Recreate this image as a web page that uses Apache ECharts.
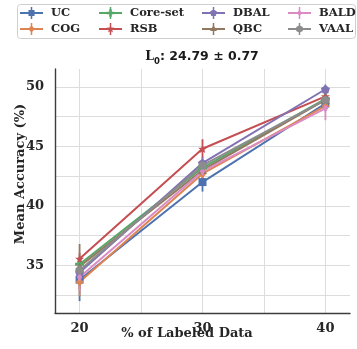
<!DOCTYPE html>
<html>
<head>
<meta charset="utf-8">
<script src="https://cdn.jsdelivr.net/npm/echarts@6/dist/echarts.min.js"></script>
<style>
  html, body { margin: 0; padding: 0; background: #fff; }
  #chart { width: 357px; height: 349px; }
</style>
</head>
<body>
<div id="chart"></div>
<script>
// % of labeled data (x)
const labeledPct = [20, 30, 40]
const xTickLabels = [20, 30, 40]
const yTickLabels = [35, 40, 45, 50]

const methods = ['UC', 'COG', 'Core-set', 'RSB', 'DBAL', 'QBC', 'BALD', 'VAAL']
const colors = ['#4c72b0', '#dd8452', '#55a868', '#c44e52', '#8172b3', '#937860', '#da8bc3', '#8c8c8c']
const markers = ['square', 'diamond', 'plus', 'star', 'pentagon', 'triangle', 'thinDiamond', 'hexagon']

// mean accuracy and std per method
const ucMean = [33.8, 42.0, 48.6]
const ucErr = [1.8, 0.8, 0.4]
const cogMean = [33.6, 42.7, 48.4]
const cogErr = [1.2, 0.5, 0.4]
const coresetMean = [35.1, 43.2, 49.0]
const coresetErr = [0.6, 0.5, 0.4]
const rsbMean = [35.55, 44.8, 49.2]
const rsbErr = [0.5, 0.8, 0.3]
const dbalMean = [34.4, 43.6, 49.8]
const dbalErr = [0.6, 0.5, 0.4]
const qbcMean = [34.9, 43.0, 48.9]
const qbcErr = [1.9, 0.6, 0.5]
const baldMean = [34.0, 42.9, 48.2]
const baldErr = [1.1, 0.5, 1.0]
const vaalMean = [34.6, 43.4, 48.9]
const vaalErr = [0.8, 0.5, 0.6]

const means = [ucMean, cogMean, coresetMean, rsbMean, dbalMean, qbcMean, baldMean, vaalMean]
const errs = [ucErr, cogErr, coresetErr, rsbErr, dbalErr, qbcErr, baldErr, vaalErr]

const serif = 'DejaVu Serif'
const sans = 'DejaVu Sans'

function poly(pts) {
  return 'M' + pts.map((p) => p[0].toFixed(2) + ',' + p[1].toFixed(2)).join('L') + 'Z'
}

function ring(cx, cy, n, r, start, r2) {
  const pts = []
  const steps = r2 ? n * 2 : n
  for (let k = 0; k < steps; k++) {
    const a = ((start + (360 / steps) * k) * Math.PI) / 180
    const rr = r2 && k % 2 ? r2 : r
    pts.push([cx + rr * Math.cos(a), cy + rr * Math.sin(a)])
  }
  return poly(pts)
}

function markerPath(kind, cx, cy, r) {
  switch (kind) {
    case 'square':
      return poly([[cx - r * 0.8, cy - r * 0.8], [cx + r * 0.8, cy - r * 0.8], [cx + r * 0.8, cy + r * 0.8], [cx - r * 0.8, cy + r * 0.8]])
    case 'diamond':
      return poly([[cx, cy - r], [cx + r * 0.85, cy], [cx, cy + r], [cx - r * 0.85, cy]])
    case 'thinDiamond':
      return poly([[cx, cy - r], [cx + r * 0.6, cy], [cx, cy + r], [cx - r * 0.6, cy]])
    case 'plus': {
      const w = r * 0.35
      return poly([
        [cx - w, cy - r], [cx + w, cy - r], [cx + w, cy - w], [cx + r, cy - w], [cx + r, cy + w], [cx + w, cy + w],
        [cx + w, cy + r], [cx - w, cy + r], [cx - w, cy + w], [cx - r, cy + w], [cx - r, cy - w], [cx - w, cy - w],
      ])
    }
    case 'star':
      return ring(cx, cy, 5, r * 1.1, -90, r * 0.45)
    case 'pentagon':
      return ring(cx, cy, 5, r, -90)
    case 'triangle':
      return ring(cx, cy, 3, r * 1.05, -90)
    case 'hexagon':
      return ring(cx, cy, 6, r, -90)
  }
}

// legend icon: line + vertical error bar + marker (23 x 12 box)
function legendIcon(kind) {
  return 'path://M0,5.1H23V6.9H0Z M10.75,0H12.25V12H10.75Z ' + markerPath(kind, 11.5, 6, 3.8)
}

const series = []
methods.forEach((m, i) => {
  const c = colors[i]
  series.push({
    type: 'line',
    name: m,
    data: labeledPct.map((x, j) => [x, means[i][j]]),
    symbol: 'path://' + markerPath(markers[i], 0, 0, 10),
    symbolKeepAspect: true,
    symbolSize: markers[i] === 'square' ? 8 : 9,
    showAllSymbol: true,
    itemStyle: { color: c, borderWidth: 0 },
    lineStyle: { color: c, width: 2 },
    emphasis: { disabled: true },
    animation: false,
  })
  series.push({
    type: 'custom',
    name: m,
    data: labeledPct.map((x, j) => [x, means[i][j], errs[i][j]]),
    encode: { x: 0, y: 1 },
    itemStyle: { color: c },
    silent: true,
    animation: false,
    renderItem: (params, api) => {
      const x = api.value(0)
      const y = api.value(1)
      const e = api.value(2)
      const lo = api.coord([x, y - e])
      const hi = api.coord([x, y + e])
      return {
        type: 'line',
        shape: { x1: lo[0], y1: lo[1], x2: hi[0], y2: hi[1] },
        style: { stroke: c, lineWidth: 1.8 },
      }
    },
  })
})

// four legend columns, two rows each
const legendCols = [[0, 1], [2, 3], [4, 5], [6, 7]]
const legendLeft = [20, 99, 202, 288]
const legends = legendCols.map((col, k) => ({
  orient: 'vertical',
  left: legendLeft[k],
  top: 7,
  padding: 0,
  itemGap: 4,
  itemWidth: 23,
  itemHeight: 12,
  selectedMode: false,
  data: col.map((i) => ({ name: methods[i], icon: legendIcon(markers[i]), itemStyle: { color: colors[i], borderWidth: 0 } })),
  textStyle: { fontFamily: serif, fontWeight: 'bold', fontSize: 11.5, color: '#262626', padding: [0, 0, 0, 3] },
}))

const chart = echarts.init(document.getElementById('chart'), null, { renderer: 'canvas' })
chart.setOption({
  animation: false,
  backgroundColor: '#fff',
  legend: legends,
  grid: { left: 55, right: 7, top: 69, bottom: 36, containLabel: false },
  xAxis: {
    type: 'value',
    min: 18,
    max: 42,
    axisLine: { show: true, lineStyle: { color: '#3d3d3d', width: 1.4 } },
    axisTick: { show: false, customValues: [20, 25, 30, 35, 40] },
    axisLabel: {
      customValues: xTickLabels,
      margin: 9,
      fontFamily: serif,
      fontWeight: 'bold',
      fontSize: 13,
      color: '#262626',
    },
    splitLine: { show: true, lineStyle: { color: '#dcdcdc', width: 1 } },
  },
  yAxis: {
    type: 'value',
    min: 31,
    max: 51.5,
    axisLine: { show: true, lineStyle: { color: '#3d3d3d', width: 1.4 } },
    axisTick: { show: false, customValues: [32.5, 35, 37.5, 40, 42.5, 45, 47.5, 50] },
    axisLabel: {
      customValues: yTickLabels,
      margin: 11,
      fontFamily: serif,
      fontWeight: 'bold',
      fontSize: 13,
      color: '#262626',
    },
    splitLine: { show: true, lineStyle: { color: '#dcdcdc', width: 1 } },
  },
  graphic: [
    {
      type: 'rect',
      z: -1,
      shape: { x: 17.5, y: 4.5, width: 338, height: 34, r: 3 },
      style: { fill: '#fff', stroke: '#cfcfcf', lineWidth: 1 },
    },
    {
      type: 'text',
      x: 202,
      y: 58,
      style: {
        text: '{a|L}{s|0}{b|: 24.79 ± 0.77}',
        align: 'center',
        verticalAlign: 'middle',
        rich: {
          a: { fontFamily: serif, fontWeight: 'bold', fontSize: 12.5, fill: '#1a1a1a', verticalAlign: 'bottom', padding: [0, 0, 3, 0] },
          s: { fontFamily: sans, fontWeight: 'bold', fontSize: 8.5, fill: '#1a1a1a', verticalAlign: 'bottom' },
          b: { fontFamily: sans, fontWeight: 'bold', fontSize: 12.5, fill: '#1a1a1a', verticalAlign: 'bottom', padding: [0, 0, 3, 0] },
        },
      },
    },
    {
      type: 'text',
      x: 21,
      y: 174,
      rotation: Math.PI / 2,
      style: {
        text: 'Mean Accuracy (%)',
        align: 'center',
        verticalAlign: 'middle',
        fontFamily: serif,
        fontWeight: 'bold',
        fontSize: 13,
        fill: '#262626',
      },
    },
    {
      type: 'text',
      x: 187,
      y: 334,
      style: {
        text: '% of Labeled Data',
        align: 'center',
        verticalAlign: 'middle',
        fontFamily: serif,
        fontWeight: 'bold',
        fontSize: 13,
        fill: '#262626',
      },
    },
  ],
  series,
})
</script>
</body>
</html>
